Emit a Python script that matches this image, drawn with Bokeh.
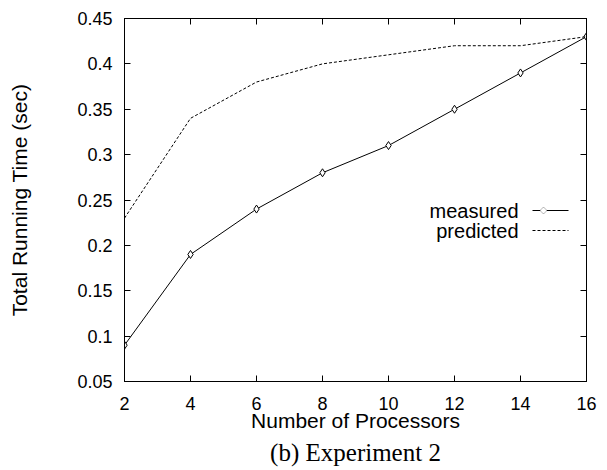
from bokeh.plotting import figure
from bokeh.models import (LinearAxis, FixedTicker, Range1d, Label, Arrow,
                          PolyAnnotation, Title)
from bokeh.embed import file_html
from bokeh.resources import INLINE

processors = [2, 4, 6, 8, 10, 12, 14, 16]
measured = [0.09, 0.19, 0.24, 0.28, 0.31, 0.35, 0.39, 0.43]
predicted = [0.23, 0.34, 0.38, 0.40, 0.41, 0.42, 0.42, 0.43]
x_ticks = [2, 4, 6, 8, 10, 12, 14, 16]
y_ticks = [0.05, 0.1, 0.15, 0.2, 0.25, 0.3, 0.35, 0.4, 0.45]
y_tick_labels = ["0.05", "0.1", "0.15", "0.2", "0.25", "0.3", "0.35", "0.4", "0.45"]

FONT = "Liberation Sans"
W, H = 600, 467

p = figure(width=W, height=H, output_backend="svg", toolbar_location=None,
           x_range=Range1d(2, 16), y_range=Range1d(0.05, 0.45),
           min_border_left=124, min_border_right=14, min_border_top=18,
           min_border_bottom=86, x_axis_label="Number of Processors",
           y_axis_label="Total Running Time (sec)")
p.background_fill_color = "white"
p.border_fill_color = "white"
p.outline_line_color = "black"
p.outline_line_width = 1
p.grid.visible = False

def style_axis(ax, ticks):
    ax.ticker = FixedTicker(ticks=ticks)
    ax.major_tick_in = 6
    ax.major_tick_out = 0
    ax.minor_tick_in = 0
    ax.minor_tick_out = 0
    ax.axis_line_color = "black"
    ax.major_tick_line_color = "black"
    ax.major_label_text_font = FONT
    ax.major_label_text_font_size = "18px"
    ax.major_label_text_color = "black"
    ax.axis_label_text_font = FONT
    ax.axis_label_text_font_size = "21px"
    ax.axis_label_text_font_style = "normal"
    ax.axis_label_text_color = "black"

xa = p.xaxis[0]
ya = p.yaxis[0]
style_axis(xa, x_ticks)
style_axis(ya, y_ticks)
ya.major_label_overrides = {t: s for t, s in zip(y_ticks, y_tick_labels)}
xa.major_label_standoff = 15
ya.major_label_standoff = 12
xa.axis_label_standoff = -4
ya.axis_label_standoff = 43

top = LinearAxis()
style_axis(top, x_ticks)
top.major_label_overrides = {t: "" for t in x_ticks}
top.major_label_standoff = 0
p.add_layout(top, "above")
right = LinearAxis()
style_axis(right, y_ticks)
right.major_label_overrides = {t: "" for t in y_ticks}
right.major_label_standoff = 0
p.add_layout(right, "right")

p.line(processors, measured, line_color="black", line_width=1)
p.scatter(processors, measured, marker="diamond", size=8, fill_color="white",
          line_color="black", line_width=1)
p.line(processors, predicted, line_color="black", line_width=1, line_dash="3 2")

# legend (labels to the left of samples, gnuplot style); screen units are frame-relative
lx_text = 394
lx0, lx1 = 408, 444
for i, (name, dash) in enumerate([("measured", "solid"), ("predicted", "3 2")]):
    yy = 171 - 20 * i
    p.add_layout(Label(x=lx_text, y=yy, x_units="screen", y_units="screen",
                       text=name, text_font=FONT, text_font_size="20px",
                       text_align="right", text_baseline="middle",
                       text_color="black"))
    p.add_layout(Arrow(end=None, x_start=lx0, x_end=lx1, y_start=yy, y_end=yy,
                       start_units="screen", end_units="screen",
                       line_color="black", line_width=1, line_dash=dash))
    if i == 0:
        cx = 419
        d = 3.5
        p.add_layout(PolyAnnotation(xs=[cx - d, cx, cx + d, cx],
                                    ys=[yy, yy + d, yy, yy - d],
                                    xs_units="screen", ys_units="screen",
                                    fill_color="white", fill_alpha=1,
                                    line_color="black", line_width=1))

cap = Title(text="(b) Experiment 2", text_font="Liberation Serif",
            text_font_size="25px", text_font_style="normal", align="center",
            offset=-39, text_color="black", standoff=4)
p.add_layout(cap, "below")

open("out.html", "w").write(file_html(p, INLINE))
